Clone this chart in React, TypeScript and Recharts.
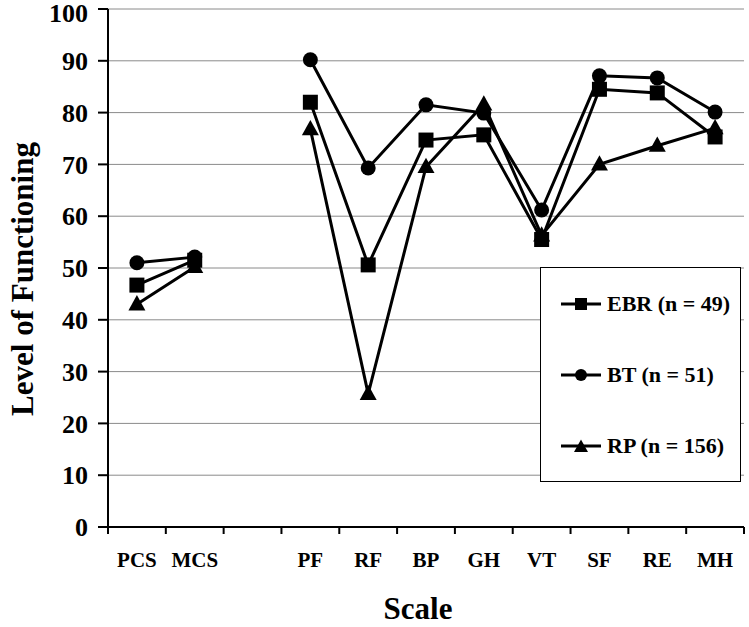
import { LineChart, Line, XAxis, YAxis, CartesianGrid, Legend, Label } from "recharts";

const categories = ["PCS", "MCS", "", "PF", "RF", "BP", "GH", "VT", "SF", "RE", "MH"];
const ebr = [46.7, 51.5, null, 82.0, 50.6, 74.7, 75.7, 55.5, 84.5, 83.8, 75.3];
const bt = [51.0, 52.1, null, 90.2, 69.3, 81.5, 79.9, 61.2, 87.1, 86.7, 80.1];
const rp = [43.0, 50.2, null, 76.8, 25.7, 69.5, 81.6, 56.3, 70.0, 73.6, 77.0];
const yTicks = [0, 10, 20, 30, 40, 50, 60, 70, 80, 90, 100];
const seriesNames = ["EBR (n = 49)", "BT (n = 51)", "RP (n = 156)"];

const FONT = '"Liberation Serif", "Times New Roman", serif';

const data = categories.map((name, i) => ({
  x: i + 0.5,
  name,
  ebr: ebr[i],
  bt: bt[i],
  rp: rp[i],
}));

const xTicks = categories.flatMap((_, i) => [i, i + 0.5]).concat(categories.length);

function Square({ cx, cy, s = 15 }: any) {
  return <rect x={cx - s / 2} y={cy - s / 2} width={s} height={s} fill="#000" />;
}
function Circle({ cx, cy, r = 7.5 }: any) {
  return <circle cx={cx} cy={cy} r={r} fill="#000" />;
}
function Triangle({ cx, cy, s = 17 }: any) {
  const h = s * 0.9;
  return (
    <polygon
      points={`${cx},${cy - h * 0.6} ${cx - s / 2},${cy + h * 0.4} ${cx + s / 2},${cy + h * 0.4}`}
      fill="#000"
    />
  );
}

const makeDot = (Shape: any) => (props: any) => {
  const { cx, cy, index } = props;
  if (cx == null || cy == null || props.value == null) return <g key={`d-${index}`} />;
  return <Shape key={`d-${index}`} cx={cx} cy={cy} />;
};

function XTick({ x, y, payload }: any) {
  const v = payload.value;
  if (Number.isInteger(v)) {
    return <line x1={x} x2={x} y1={y - 7} y2={y} stroke="#000" strokeWidth={2} />;
  }
  return (
    <text x={x} y={y + 33} textAnchor="middle" fontFamily={FONT} fontWeight="bold" fontSize={21} fill="#000">
      {categories[Math.floor(v)]}
    </text>
  );
}

function YTick({ x, y, payload }: any) {
  // keep the top label inside the picture
  const ty = Math.max(y, 13);
  return (
    <text x={x} y={ty} dy="0.355em" textAnchor="end" fontFamily={FONT} fontWeight="bold" fontSize={26} fill="#000">
      {payload.value}
    </text>
  );
}

function LegendBox() {
  return (
    <div
      style={{
        width: 201,
        height: 215,
        boxSizing: "border-box",
        border: "1.5px solid #000",
        background: "#fff",
        position: "relative",
      }}
    >
      {seriesNames.map((n, i) => (
        <div key={n} style={{ position: "absolute", left: 20, top: 22 + i * 71, display: "flex", alignItems: "center" }}>
          <svg width={40} height={28}>
            <line x1={0} x2={40} y1={14} y2={14} stroke="#000" strokeWidth={3} />
            {i === 0 && <Square cx={20} cy={14} s={12} />}
            {i === 1 && <Circle cx={20} cy={14} r={6} />}
            {i === 2 && <Triangle cx={20} cy={15} s={14} />}
          </svg>
          <span style={{ fontFamily: FONT, fontWeight: "bold", fontSize: 22, marginLeft: 6, color: "#000", whiteSpace: "nowrap" }}>
            {n}
          </span>
        </div>
      ))}
    </div>
  );
}

export default function App() {
  return (
    <div style={{ position: "absolute", left: 0, top: 0, background: "#fff" }}>
      <LineChart width={749} height={627} data={data} margin={{ top: 9, right: 5, bottom: 0, left: 0 }}>
        <CartesianGrid horizontal vertical={false} stroke="#8a8a8a" strokeWidth={1} />
        <XAxis
          dataKey="x"
          type="number"
          domain={[0, categories.length]}
          ticks={xTicks}
          interval={0}
          height={100}
          tickLine={false}
          tickSize={7}
          tickMargin={0}
          axisLine={{ stroke: "#000", strokeWidth: 2 }}
          tick={<XTick />}
        >
          <Label
            content={({ viewBox }: any) => (
              <text
                x={viewBox.x + viewBox.width / 2 - 8}
                y={viewBox.y + 92}
                textAnchor="middle"
                fontFamily={FONT}
                fontWeight="bold"
                fontSize={31}
                fill="#000"
              >
                Scale
              </text>
            )}
          />
        </XAxis>
        <YAxis
          type="number"
          domain={[0, 100]}
          ticks={yTicks}
          interval={0}
          width={108}
          tickSize={10}
          tickMargin={10}
          axisLine={{ stroke: "#000", strokeWidth: 2 }}
          tickLine={{ stroke: "#000", strokeWidth: 2 }}
          tick={<YTick />}
        >
          <Label
            content={({ viewBox }: any) => {
              const cx = 22;
              const cy = viewBox.y + viewBox.height / 2 + 11;
              return (
                <text
                  x={cx}
                  y={cy}
                  transform={`rotate(-90, ${cx}, ${cy})`}
                  textAnchor="middle"
                  dominantBaseline="central"
                  fontFamily={FONT}
                  fontWeight="bold"
                  fontSize={31}
                  fill="#000"
                >
                  Level of Functioning
                </text>
              );
            }}
          />
        </YAxis>
        <Legend
          layout="vertical"
          align="center"
          verticalAlign="middle"
          content={<LegendBox />}
          wrapperStyle={{ position: "absolute", left: 540, top: 267, width: 201, height: 215 }}
        />
        <Line dataKey="ebr" stroke="#000" strokeWidth={3} dot={makeDot(Square)} isAnimationActive={false} />
        <Line dataKey="bt" stroke="#000" strokeWidth={3} dot={makeDot(Circle)} isAnimationActive={false} />
        <Line dataKey="rp" stroke="#000" strokeWidth={3} dot={makeDot(Triangle)} isAnimationActive={false} />
      </LineChart>
    </div>
  );
}
